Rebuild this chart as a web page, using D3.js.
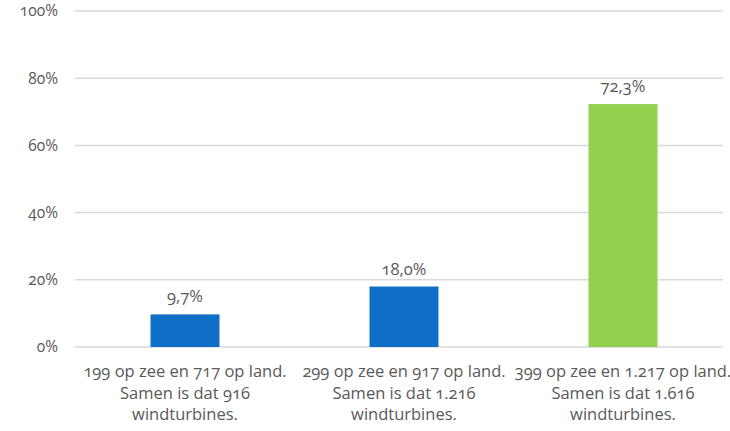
<!DOCTYPE html>
<html>
<head>
<meta charset="utf-8">
<script src="https://cdn.jsdelivr.net/npm/d3@7"></script>
<style>
  body { margin: 0; background: #fff; }
  text { font-family: "Open Sans", "Noto Sans", sans-serif; font-variant-numeric: oldstyle-nums; fill: #595959; }
</style>
</head>
<body>
<svg id="chart"></svg>
<script>
const categories = [
    ["199 op zee en 717 op land.", "Samen is dat 916", "windturbines."],
    ["299 op zee en 917 op land.", "Samen is dat 1.216", "windturbines."],
    ["399 op zee en 1.217 op land.", "Samen is dat 1.616", "windturbines."]
];
const values = [0.097, 0.180, 0.723];
const valueLabels = ["9,7%", "18,0%", "72,3%"];
const barColors = ["#0f6fc6", "#0f6fc6", "#92d050"];
const yTicks = [0, 0.2, 0.4, 0.6, 0.8, 1.0];

const width = 730;
const height = 431;

const svg = d3.select("#chart")
    .attr("width", width)
    .attr("height", height);

const x = d3.scaleBand()
    .domain(d3.range(categories.length))
    .range([75.5, 732.5]);

const y = d3.scaleLinear()
    .domain([0, 1])
    .range([347, 11]);

const barWidth = x.bandwidth() * 0.315;

// gridlines
svg.selectAll(".grid")
    .data(yTicks)
    .enter()
    .append("line")
    .attr("x1", 75)
    .attr("x2", 723)
    .attr("y1", d => y(d))
    .attr("y2", d => y(d))
    .attr("stroke", "#d9d9d9")
    .attr("stroke-width", 1.5);

// y labels
svg.selectAll(".ytick")
    .data(yTicks)
    .enter()
    .append("text")
    .attr("x", 58)
    .attr("y", d => y(d))
    .attr("dy", "0.35em")
    .attr("text-anchor", "end")
    .style("font-size", "15.5px")
    .text(d => Math.round(d * 100) + "%");

// bars
svg.selectAll(".bar")
    .data(values)
    .enter()
    .append("rect")
    .attr("x", (d, i) => x(i) + (x.bandwidth() - barWidth) / 2)
    .attr("y", d => y(d))
    .attr("width", barWidth)
    .attr("height", d => y(0) - y(d))
    .attr("fill", (d, i) => barColors[i]);

// value labels
svg.selectAll(".val")
    .data(values)
    .enter()
    .append("text")
    .attr("x", (d, i) => x(i) + x.bandwidth() / 2)
    .attr("y", d => y(d) - 12)
    .attr("text-anchor", "middle")
    .style("font-size", "16.5px")
    .text((d, i) => valueLabels[i]);

// category labels
const cat = svg.selectAll(".cat")
    .data(categories)
    .enter()
    .append("text")
    .attr("text-anchor", "middle")
    .style("font-size", "16.5px");

cat.selectAll("tspan")
    .data((d, i) => d.map(line => ({ line, i })))
    .enter()
    .append("tspan")
    .attr("x", d => x(d.i) + x.bandwidth() / 2)
    .attr("y", (d, j) => 377 + j * 21.5)
    .text(d => d.line);
</script>
</body>
</html>
